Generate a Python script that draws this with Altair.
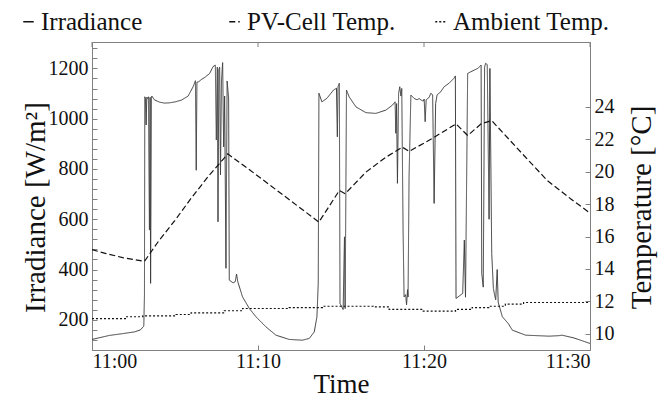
import altair as alt
import pandas as pd

# ---------------- data ----------------
series_names = ["Irradiance", "PV-Cell Temp.", "Ambient Temp."]

# minutes after 11:00
irr_t = [0.00, 1.05, 1.84, 2.56, 2.92, 3.12, 3.16, 3.18, 3.22, 3.26, 3.30, 3.34, 3.40, 3.46, 3.50, 3.53,
         3.58, 3.61, 3.76, 4.06, 4.36, 4.66, 5.02, 5.39, 5.79, 6.09, 6.23, 6.28, 6.32, 6.43, 6.59, 6.79,
         7.09, 7.29, 7.43, 7.49, 7.55, 7.59, 7.64, 7.69, 7.74, 7.80, 7.87, 7.93, 7.99, 8.07, 8.14, 8.23,
         8.27, 8.50, 8.63, 8.71, 8.78, 9.07, 9.48, 9.88, 10.48, 11.08, 11.88, 12.68, 13.09, 13.39, 13.55,
         13.63, 13.67, 13.85, 14.15, 14.55, 14.73, 14.78, 14.82, 14.90, 14.94, 15.05, 15.13, 15.21, 15.25,
         15.33, 15.49, 15.90, 16.50, 17.10, 17.70, 18.10, 18.26, 18.30, 18.35, 18.40, 18.47, 18.54, 18.61,
         18.66, 18.74, 18.80, 18.89, 18.95, 19.01, 19.04, 19.10, 19.21, 19.40, 19.58, 19.71, 19.83, 19.95,
         20.01, 20.07, 20.13, 20.31, 20.41, 20.52, 20.61, 20.70, 20.79, 21.01, 21.21, 21.51, 21.81, 21.89,
         21.93, 22.33, 22.43, 22.50, 22.63, 22.83, 23.24, 23.44, 23.48, 23.57, 23.65, 23.71, 23.81, 23.92,
         23.97, 24.08, 24.18, 24.25, 24.32, 24.41, 24.47, 24.72, 25.08, 25.32, 26.12, 27.53, 28.13, 28.31,
         29.03, 30.00]
irr_v = [122, 138, 145, 152, 160, 175, 300, 1087, 1080, 975, 1085, 1080, 1087, 557, 1085, 345,
         1087, 1090, 1075, 1066, 1062, 1063, 1067, 1074, 1090, 1127, 1151, 795, 1145, 1147, 1156, 1164,
         1180, 1207, 1213, 915, 1205, 590, 1195, 1205, 776, 1150, 1223, 888, 1090, 405, 1150, 1081,
         358, 347, 352, 382, 352, 291, 245, 212, 172, 139, 122, 119, 126, 152, 212,
         346, 1101, 1067, 1081, 1114, 1121, 928, 1127, 1141, 265, 251, 241, 530, 245,
         1114, 1087, 1047, 1024, 1021, 1034, 1054, 1067, 942, 1060, 743, 1100, 1127, 1090,
         1120, 557, 291, 300, 260, 320, 291, 769, 1094, 1081, 1075, 1080, 1074, 1070,
         1078, 988, 1075, 1085, 1101, 1095, 663, 1060, 1095, 1107, 1127, 1141, 1161, 1170,
         285, 305, 517, 290, 1180, 1187, 1200, 1213, 384, 330, 1205, 1220, 1215, 600,
         1200, 464, 325, 300, 280, 400, 270, 212, 185, 159, 139, 135, 137, 139,
         128, 106]

pv_t = [0.00, 0.85, 1.85, 3.16, 4.00, 5.00, 6.00, 7.00, 8.18, 9.84, 11.85, 13.67, 14.90, 15.25,
        16.50, 17.70, 18.70, 19.10, 20.50, 21.93, 22.63, 23.44, 24.08, 24.82, 26.02, 27.42, 28.83, 30.00]
pv_v = [15.19, 14.95, 14.70, 14.47, 15.70, 17.00, 18.40, 19.70, 21.10, 19.85, 18.30, 16.89, 18.84, 18.64,
        19.97, 20.89, 21.51, 21.25, 22.05, 22.95, 22.23, 22.95, 23.15, 22.33, 21.00, 19.46, 18.33, 17.45]

amb_t = [0.00, 2.05, 3.06, 5.06, 5.97, 7.97, 9.07, 11.88, 13.88, 16.94, 17.90, 19.90, 21.90, 22.90,
         23.90, 24.90, 26.00, 30.00]
amb_v = [10.93, 11.05, 11.11, 11.19, 11.29, 11.42, 11.56, 11.62, 11.70, 11.66, 11.50, 11.40, 11.50, 11.62,
         11.70, 11.83, 11.93, 11.93]

x_ticks = [0, 10, 20, 30]
irr_ticks = list(range(80, 1301, 40))
temp_ticks = [10, 12, 14, 16, 18, 20, 22, 24]

# ---------------- tables ----------------
df = pd.concat([
    pd.DataFrame({"t": irr_t, "v": irr_v, "series": series_names[0]}),
    pd.DataFrame({"t": pv_t, "v": pv_v, "series": series_names[1]}),
    pd.DataFrame({"t": amb_t, "v": amb_v, "series": series_names[2]}),
])
tick_df = pd.DataFrame({"t": x_ticks})

FONT = "Liberation Serif"
GRAY = "#808080"
INK = "#111"

x_enc = alt.X(
    "t:Q",
    scale=alt.Scale(domain=[0, 30], nice=False, zero=False),
    axis=alt.Axis(values=x_ticks,
                  labelExpr="'11:' + (datum.value == 0 ? '00' : datum.value)",
                  title="Time", titleFont=FONT, titleFontSize=27, titleFontWeight="normal",
                  titleColor=INK, titleX=249, titleY=47, titleAlign="center",
                  titleBaseline="alphabetic",
                  labelFont=FONT, labelFontSize=20, labelColor=INK, labelPadding=1,
                  tickSize=5, offset=-5, domain=False, grid=False, tickColor=GRAY),
)

dash_enc = alt.StrokeDash(
    "series:N",
    scale=alt.Scale(domain=series_names, range=[[1, 0], [6, 3], [2, 2]]),
    legend=alt.Legend(orient="none", legendX=-76, legendY=-33, direction="horizontal", columns=3,
                      gridAlign="all",
                      title=None, symbolType="stroke", symbolSize=110, symbolStrokeWidth=1.3,
                      symbolStrokeColor=INK, labelFont=FONT, labelFontSize=25, labelColor=INK,
                      labelOffset=0, columnPadding=24, labelLimit=400),
)

base = alt.Chart(df)

irr = base.transform_filter(alt.datum.series == series_names[0]).mark_line(
    color="#3a3a3a", strokeWidth=1
).encode(
    x=x_enc,
    y=alt.Y("v:Q", scale=alt.Scale(domain=[80, 1305], nice=False, zero=False),
            axis=alt.Axis(values=irr_ticks,
                          labelExpr="datum.value % 200 == 0 ? datum.value : ''",
                          title="Irradiance  [W/m²]", titleFont=FONT, titleFontSize=29,
                          titleFontWeight="normal", titleColor=INK,
                          titleX=-62, titleY=165, titleAngle=270, titleAlign="center",
                          titleBaseline="middle",
                          labelFont=FONT, labelFontSize=20, labelColor=INK, labelPadding=4,
                          tickSize=5, offset=-5, domain=False, grid=False, tickColor=GRAY)),
    strokeDash=dash_enc,
)

temp_axis = alt.Axis(values=temp_ticks, orient="right",
                     title="Temperature  [°C]", titleFont=FONT, titleFontSize=29,
                     titleFontWeight="normal", titleColor=INK,
                     titleX=56, titleY=165, titleAngle=270, titleAlign="center",
                     titleBaseline="middle",
                     labelFont=FONT, labelFontSize=20, labelColor=INK, labelPadding=4,
                     tickSize=5, offset=-5, domain=False, grid=False, tickColor=GRAY)
temp_y = alt.Y("v:Q", scale=alt.Scale(domain=[9, 28], nice=False, zero=False), axis=temp_axis)

pv = base.transform_filter(alt.datum.series == series_names[1]).mark_line(
    color=INK, strokeWidth=1.2
).encode(x=x_enc, y=temp_y, strokeDash=dash_enc)

amb = base.transform_filter(alt.datum.series == series_names[2]).mark_line(
    color=INK, strokeWidth=1.2, interpolate="step-after"
).encode(x=x_enc, y=temp_y, strokeDash=dash_enc)

temps = alt.layer(pv, amb)

top_ticks = alt.Chart(tick_df).mark_rule(color=GRAY, strokeWidth=1).encode(
    x=x_enc, y=alt.value(0), y2=alt.value(5)
)

chart = alt.layer(irr, temps, top_ticks).resolve_scale(y="independent").properties(
    width=498, height=308,
    padding={"left": 84, "top": 34, "right": 71, "bottom": 47},
    autosize=alt.AutoSizeParams(type="none"),
).configure_view(stroke=GRAY, strokeWidth=1)

chart.save("out.html", embed_options={"renderer": "svg", "actions": False})
